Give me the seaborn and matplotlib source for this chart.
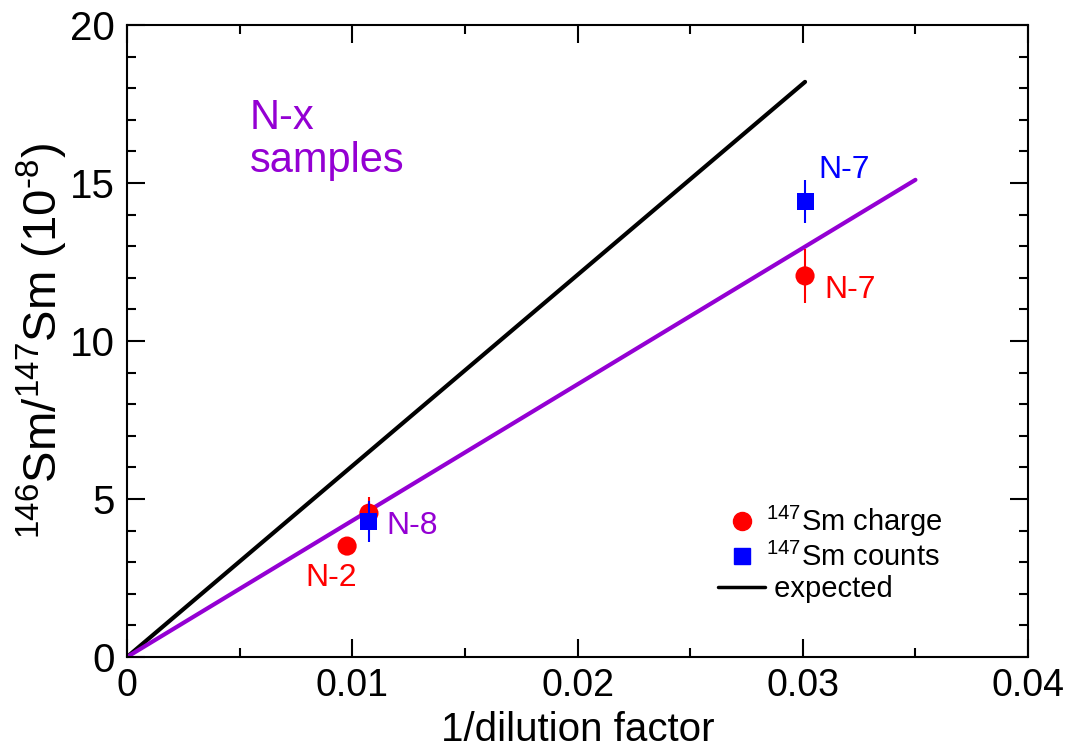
import matplotlib
matplotlib.use("Agg")
import matplotlib.pyplot as plt
import seaborn as sns
from matplotlib.ticker import MultipleLocator
from matplotlib.lines import Line2D

sns.set_theme(style="ticks")
plt.rcParams['font.family'] = ['Liberation Sans', 'DejaVu Sans']
plt.rcParams['mathtext.fontset'] = 'custom'
plt.rcParams['mathtext.rm'] = 'Liberation Sans'
plt.rcParams['text.color'] = 'black'
plt.rcParams['axes.labelcolor'] = 'black'
plt.rcParams['xtick.color'] = 'black'
plt.rcParams['ytick.color'] = 'black'

# Data
charge_x = [0.00977, 0.01074, 0.0301]
charge_y = [3.51, 4.55, 12.06]
charge_err = [0.15, 0.5, 0.85]

counts_x = [0.01074, 0.0301]
counts_y = [4.30, 14.40]
counts_err = [0.65, 0.68]

expected_x = [0.0, 0.0301]
expected_y = [0.0, 18.2]

fit_x = [0.0, 0.035]
fit_y = [0.0, 15.1]

x_ticks = [0, 0.01, 0.02, 0.03, 0.04]
x_ticklabels = ['0', '0.01', '0.02', '0.03', '0.04']
y_ticks = [0, 5, 10, 15, 20]
y_ticklabels = ['0', '5', '10', '15', '20']

RED = '#FF0000'
BLUE = '#0000FF'
PURPLE = '#9400D3'

fig = plt.figure(figsize=(10.72, 7.53), dpi=100)
ax = fig.add_axes([0.1185, 0.1275, 0.8405, 0.8393])

sns.lineplot(x=expected_x, y=expected_y, ax=ax, color='black', lw=3, zorder=2)
sns.lineplot(x=fit_x, y=fit_y, ax=ax, color=PURPLE, lw=3, zorder=2)

ax.errorbar(charge_x, charge_y, yerr=charge_err, fmt='none', ecolor=RED, elinewidth=1.5, capsize=0, zorder=3)
ax.errorbar(counts_x, counts_y, yerr=counts_err, fmt='none', ecolor=BLUE, elinewidth=1.5, capsize=0, zorder=5)
sns.scatterplot(x=charge_x, y=charge_y, ax=ax, color=RED, marker='o', s=190, edgecolor='none', zorder=4)
sns.scatterplot(x=counts_x, y=counts_y, ax=ax, color=BLUE, marker='s', s=150, edgecolor='none', zorder=6)

ax.set_xlim(0, 0.04)
ax.set_ylim(0, 20)
ax.xaxis.set_minor_locator(MultipleLocator(0.005))
ax.yaxis.set_minor_locator(MultipleLocator(1))
ax.set_xticks(x_ticks)
ax.set_xticklabels(x_ticklabels, fontsize=27)
ax.set_yticks(y_ticks)
ax.set_yticklabels(y_ticklabels, fontsize=29)
ax.tick_params(which='both', direction='in', top=True, right=True, width=1.5, colors='black')
ax.tick_params(which='major', length=13, pad=8)
ax.tick_params(axis='y', which='major', pad=9)
ax.tick_params(which='minor', length=6.5)
for sp in ax.spines.values():
    sp.set_linewidth(1.5)
    sp.set_color('black')

ax.set_xlabel('1/dilution factor', fontsize=29, labelpad=5)
ax.set_ylabel(r'$^{146}$Sm/$^{147}$Sm (10$^{\text{-}8}$)', fontsize=34, labelpad=0)

ax.text(0.00546, 17.05, 'N-x', color=PURPLE, fontsize=30, va='center', ha='left')
ax.text(0.00546, 15.7, 'samples', color=PURPLE, fontsize=30, va='center', ha='left')
ax.text(0.00906, 2.5, 'N-2', color=RED, fontsize=23, va='center', ha='center')
ax.text(0.0115, 4.15, 'N-8', color=PURPLE, fontsize=23, va='center', ha='left')
ax.text(0.03068, 15.4, 'N-7', color=BLUE, fontsize=23, va='center', ha='left')
ax.text(0.03094, 11.6, 'N-7', color=RED, fontsize=23, va='center', ha='left')

handles = [
    Line2D([], [], color=RED, marker='o', ls='none', markersize=13),
    Line2D([], [], color=BLUE, marker='s', ls='none', markersize=11),
    Line2D([], [], color='black', lw=2.5),
]
labels = [r'$^{147}$Sm charge', r'$^{147}$Sm counts', ' expected']
ax.legend(handles, labels, loc='upper left', bbox_to_anchor=(0.64, 0.265), frameon=False,
          fontsize=21, handlelength=1.6, handletextpad=0.05, labelspacing=0.12, borderpad=0)

fig.savefig('out.png', dpi=100)
